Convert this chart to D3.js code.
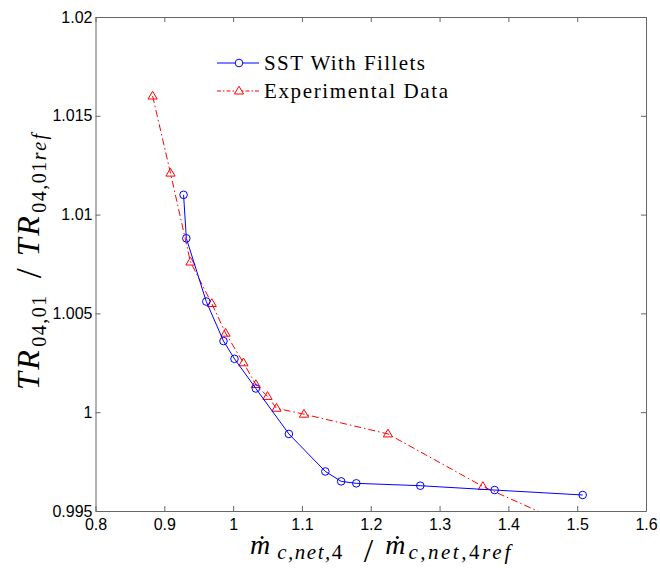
<!DOCTYPE html>
<html>
<head>
<meta charset="utf-8">
<script src="https://cdn.jsdelivr.net/npm/d3@7"></script>
<style>
  body { margin: 0; background: #fff; }
  .tick text { font-family: "Liberation Sans", Arial, sans-serif; font-size: 16px; fill: #000; }
  .tick line { stroke: #666; }
  .domain { stroke: #666; }
</style>
</head>
<body>
<div id="chart"></div>
<script>
// reference data
const sstX = [0.928, 0.932, 0.961, 0.986, 1.002, 1.033, 1.081, 1.134, 1.157, 1.179, 1.272, 1.380, 1.508];
const sstY = [1.0110, 1.0088, 1.0056, 1.0036, 1.0027, 1.0012, 0.9989, 0.9970, 0.9965, 0.9964, 0.99628, 0.99606, 0.99581];
const expX = [0.883, 0.909, 0.938, 0.969, 0.989, 1.015, 1.033, 1.050, 1.063, 1.103, 1.225, 1.363, 1.500];
const expY = [1.0160, 1.0121, 1.0076, 1.0055, 1.0040, 1.0025, 1.0014, 1.0008, 1.0002, 0.9999, 0.9989, 0.99624, 0.9941];

const xTicks = [0.8, 0.9, 1.0, 1.1, 1.2, 1.3, 1.4, 1.5, 1.6];
const yTicks = [0.995, 1.0, 1.005, 1.01, 1.015, 1.02];
const seriesNames = ["SST With Fillets", "Experimental Data"];

const width = 660, height = 568;
const margin = { left: 95.5, right: 14, top: 17, bottom: 57 };

const svg = d3.select("#chart").append("svg")
  .attr("width", width)
  .attr("height", height);

const x = d3.scaleLinear().domain([0.8, 1.6]).range([margin.left, width - margin.right]);
const y = d3.scaleLinear().domain([0.995, 1.02]).range([height - margin.bottom, margin.top]);

const fmt = d => String(+d.toFixed(3));

// axes, ticks pointing inward on all four sides
svg.append("g")
  .attr("transform", `translate(0,${y.range()[0]})`)
  .call(d3.axisBottom(x).tickValues(xTicks).tickFormat(fmt).tickSizeInner(-5).tickSizeOuter(0).tickPadding(8));
svg.append("g")
  .attr("transform", `translate(0,${y.range()[1]})`)
  .call(d3.axisTop(x).tickValues(xTicks).tickFormat("").tickSizeInner(-5).tickSizeOuter(0));
svg.append("g")
  .attr("transform", `translate(${x.range()[0]},0)`)
  .call(d3.axisLeft(y).tickValues(yTicks).tickFormat(fmt).tickSizeInner(-5).tickSizeOuter(0).tickPadding(3));
svg.append("g")
  .attr("transform", `translate(${x.range()[1]},0)`)
  .call(d3.axisRight(y).tickValues(yTicks).tickFormat("").tickSizeInner(-5).tickSizeOuter(0));

// clip for the data
svg.append("clipPath").attr("id", "plot-clip")
  .append("rect")
  .attr("x", x.range()[0]).attr("y", y.range()[1])
  .attr("width", x.range()[1] - x.range()[0])
  .attr("height", y.range()[0] - y.range()[1]);

const plot = svg.append("g").attr("clip-path", "url(#plot-clip)");

const line = d3.line().x(d => x(d[0])).y(d => y(d[1]));
const sst = sstX.map((v, i) => [v, sstY[i]]);
const exp = expX.map((v, i) => [v, expY[i]]);

const triangle = "M0,-4.8L4.6,3L-4.6,3Z";

// experimental data (red dash-dot, triangles)
plot.append("path")
  .datum(exp)
  .attr("d", line)
  .attr("fill", "none")
  .attr("stroke", "#ff0000")
  .attr("stroke-width", 1)
  .attr("stroke-dasharray", "7,3,1.5,3");
plot.selectAll(".tri")
  .data(exp)
  .enter().append("path")
  .attr("class", "tri")
  .attr("d", triangle)
  .attr("transform", d => `translate(${x(d[0])},${y(d[1])})`)
  .attr("fill", "none")
  .attr("stroke", "#ff0000")
  .attr("stroke-width", 1);

// simulation (blue solid, circles)
plot.append("path")
  .datum(sst)
  .attr("d", line)
  .attr("fill", "none")
  .attr("stroke", "#0000ff")
  .attr("stroke-width", 1);
plot.selectAll(".circ")
  .data(sst)
  .enter().append("circle")
  .attr("class", "circ")
  .attr("cx", d => x(d[0]))
  .attr("cy", d => y(d[1]))
  .attr("r", 3.8)
  .attr("fill", "none")
  .attr("stroke", "#0000ff")
  .attr("stroke-width", 1);

// legend
const legend = svg.append("g");
const legRows = [
  { name: seriesNames[0], color: "#0000ff", dash: null, marker: "circle", y: 63, len: 161 },
  { name: seriesNames[1], color: "#ff0000", dash: "4,2,1.5,2", marker: "tri", y: 91, len: 184 }
];
legRows.forEach(r => {
  legend.append("line")
    .attr("x1", 217).attr("x2", 259)
    .attr("y1", r.y).attr("y2", r.y)
    .attr("stroke", r.color)
    .attr("stroke-dasharray", r.dash);
  if (r.marker === "circle") {
    legend.append("circle").attr("cx", 239).attr("cy", r.y).attr("r", 3.8)
      .attr("fill", "#fff").attr("stroke", r.color);
  } else {
    legend.append("path").attr("d", triangle)
      .attr("transform", `translate(239,${r.y})`)
      .attr("fill", "#fff").attr("stroke", r.color);
  }
  legend.append("text")
    .attr("x", 264).attr("y", r.y + 7)
    .attr("font-family", "Liberation Serif, serif")
    .attr("font-size", 21)
    .attr("textLength", r.len)
    .attr("lengthAdjust", "spacing")
    .text(r.name);
});

// x label: m-dot_{c,net,4} / m-dot_{c,net,4ref}
const xl = svg.append("text")
  .attr("x", 250).attr("y", 554)
  .attr("font-family", "Liberation Serif, serif")
  .attr("font-size", 28);
xl.append("tspan").attr("font-style", "italic").text("\u1E41");
xl.append("tspan").attr("font-size", 21).attr("dx", 7).attr("dy", 5)
  .attr("font-style", "italic").attr("letter-spacing", 1.5).text("c,net,");
xl.append("tspan").attr("font-size", 21).attr("letter-spacing", 1.5).text("4");
xl.append("tspan").attr("font-size", 34).attr("dx", 20).attr("dy", 3).text("/");
xl.append("tspan").attr("font-style", "italic").attr("dx", 12).attr("dy", -8).text("\u1E41");
xl.append("tspan").attr("font-size", 21).attr("dx", 3).attr("dy", 5)
  .attr("font-style", "italic").attr("letter-spacing", 2.5).text("c,net,");
xl.append("tspan").attr("font-size", 21).attr("letter-spacing", 2.5).text("4");
xl.append("tspan").attr("font-size", 21).attr("font-style", "italic").attr("letter-spacing", 3).text("ref");

// y label: TR_{04,01} / TR_{04,01ref}
const yl = svg.append("text")
  .attr("transform", "translate(39,390) rotate(-90)")
  .attr("font-family", "Liberation Serif, serif")
  .attr("font-size", 32);
yl.append("tspan").attr("font-style", "italic").attr("letter-spacing", 2.5).text("TR");
yl.append("tspan").attr("font-size", 20).attr("dx", 1).attr("dy", 7).attr("letter-spacing", 1.5).text("04,01");
yl.append("tspan").attr("font-size", 36).attr("dx", 16).attr("dy", -5).text("/");
yl.append("tspan").attr("font-style", "italic").attr("dx", 12).attr("dy", -2).attr("letter-spacing", 2.5).text("TR");
yl.append("tspan").attr("font-size", 20).attr("dx", 1).attr("dy", 7).attr("letter-spacing", 1.5).text("04,01");
yl.append("tspan").attr("font-size", 20).attr("font-style", "italic").attr("letter-spacing", 2.5).text("ref");
</script>
</body>
</html>
